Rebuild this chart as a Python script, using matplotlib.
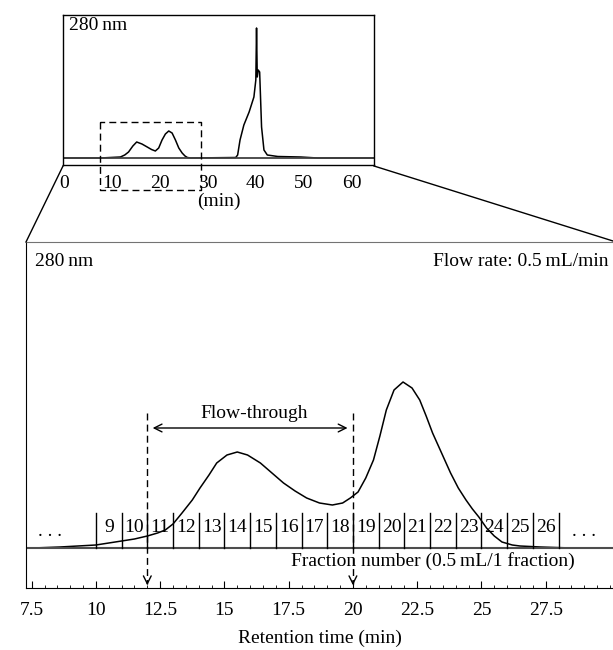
import matplotlib
matplotlib.use("Agg")
import matplotlib.pyplot as plt
from matplotlib.lines import Line2D
from matplotlib.ticker import MultipleLocator

plt.rcParams['font.family'] = ['Liberation Serif', 'DejaVu Serif']

# full run, 0 - 65 min (absorbance in arbitrary units)
full_time = [0, 7.5, 11.7, 12.6, 13.4, 14.3, 15.1, 16.2, 17.3, 18.2, 19.0, 19.7, 20.4,
             21.1, 21.8, 22.5, 23.2, 23.9, 24.6, 25.2, 25.7, 26.4, 35.8, 36.2, 36.7,
             37.5, 38.6, 39.6, 40.0, 40.15, 40.3, 40.5, 40.8, 41.2, 41.7, 42.4, 44.6,
             49.4, 52.9, 65]
full_abs = [0, 0, 1, 3, 6, 12, 16, 14, 11, 8.5, 7, 10, 18,
            24, 27, 25, 18, 10, 5, 2, 0.5, 0, 0.5, 3, 18,
            33, 46, 61, 78, 130, 81, 88, 86, 31, 8, 3, 1.5,
            1, 0, 0]

# zoomed region, 7.5 - 30 min
time = [7.55, 8.6, 9.3, 10.0, 10.5, 11.0, 11.5, 12.0, 12.4, 12.7, 13.0, 13.35, 13.75,
        14.05, 14.4, 14.7, 15.1, 15.5, 15.9, 16.4, 16.85, 17.3, 17.75, 18.2, 18.7,
        19.2, 19.6, 19.9, 20.2, 20.5, 20.8, 21.05, 21.3, 21.6, 21.95, 22.3, 22.6,
        22.85, 23.1, 23.45, 23.8, 24.1, 24.4, 24.65, 24.9, 25.2, 25.5, 25.8, 26.2,
        26.5, 27.3, 28.5, 30.2]
absorb = [0, 1, 2, 3, 5, 7, 9, 12, 15, 18, 24, 35, 48,
          60, 73, 85, 93, 96, 93, 85, 75, 65, 57, 50, 45,
          43, 45, 50, 56, 70, 88, 112, 138, 158, 166, 160, 148,
          132, 115, 95, 75, 60, 48, 39, 31, 20, 12, 6, 3,
          2, 1, 0, 0]

fraction_edges = list(range(10, 29))
fraction_labels = [str(n) for n in range(9, 27)]
flow_through = (12, 20)
box_range = (7.5, 28.6)

fig = plt.figure(figsize=(6.13, 6.5), dpi=100)
W, H = 613.0, 650.0

# ---------------- inset: whole chromatogram ----------------
ax1 = fig.add_axes([63 / W, 1 - 165 / H, (374 - 63) / W, (165 - 15) / H])
ax1.plot(full_time, full_abs, color='black', lw=1.1)
ax1.axhline(0, color='0.25', lw=1.3)
ax1.set_xlim(-0.3, 64.7)
ax1.set_ylim(-7, 143)
ax1.set_xticks([0, 10, 20, 30, 40, 50, 60])
ax1.set_yticks([])
ax1.tick_params(axis='x', length=0, pad=7, labelsize=14)
for s in ax1.spines.values():
    s.set_linewidth(1.0)
ax1.set_xlabel('(min)', fontsize=14, labelpad=1)
ax1.text(0.02, 0.93, '280\u2009nm', transform=ax1.transAxes, fontsize=14, va='center', ha='left')
ax1.plot([box_range[0], box_range[0], box_range[1], box_range[1], box_range[0]],
         [36, -32, -32, 36, 36], color='black', lw=1.0, ls=(0, (5, 3)), clip_on=False)

# ---------------- main: zoomed region ----------------
ax = fig.add_axes([26 / W, 1 - 588 / H, (613 - 26) / W, (588 - 242) / H])
ax.plot(time, absorb, color='black', lw=1.1)
ax.axhline(0, color='0.3', lw=1.5)
ax.set_xlim(7.28, 30.12)
ax.set_ylim(-40, 306)
ax.set_yticks([])
ax.xaxis.set_minor_locator(MultipleLocator(0.5))
ax.set_xticks([7.5, 10, 12.5, 15, 17.5, 20, 22.5, 25, 27.5])
ax.set_xticklabels(['7.5', '10', '12.5', '15', '17.5', '20', '22.5', '25', '27.5'])
ax.tick_params(axis='x', which='major', direction='in', length=5, pad=10, labelsize=14)
ax.tick_params(axis='x', which='minor', direction='in', length=2.5)
ax.spines['right'].set_visible(False)
ax.spines['top'].set_color('0.45')
ax.set_xlabel('Retention time (min)', fontsize=14, labelpad=8)

# fraction bars
for e in fraction_edges:
    ax.plot([e, e], [0, 35], color='black', lw=1.0)
for i, lab in enumerate(fraction_labels):
    ax.text(fraction_edges[i] + 0.5, 20, lab, ha='center', va='center', fontsize=14)
ax.text(8.2, 16, '. . .', ha='center', va='center', fontsize=14)
ax.text(29.0, 16, '. . .', ha='center', va='center', fontsize=14)
ax.text(23.1, -13, 'Fraction number (0.5\u2009mL/1 fraction)', ha='center', va='center', fontsize=14)

# flow-through markers
for x in flow_through:
    ax.plot([x, x], [135, -36], color='black', lw=1.0, ls=(0, (5, 3)))
    ax.annotate('', xy=(x, -40), xytext=(x, -30),
                arrowprops=dict(arrowstyle='->', color='black', lw=1.0, mutation_scale=14))
ax.annotate('', xy=(flow_through[0] + 0.1, 120), xytext=(flow_through[1] - 0.1, 120),
            arrowprops=dict(arrowstyle='<->', color='black', lw=1.0, mutation_scale=14))
ax.text(16.15, 135, 'Flow-through', ha='center', va='center', fontsize=14)

ax.text(0.015, 0.945, '280\u2009nm', transform=ax.transAxes, fontsize=14, va='center', ha='left')
ax.text(0.993, 0.945, 'Flow rate: 0.5\u2009mL/min', transform=ax.transAxes, fontsize=14,
        va='center', ha='right')

# zoom connector lines
fig.add_artist(Line2D([63 / W, 26 / W], [1 - 166 / H, 1 - 242 / H], color='black', lw=1.0,
                      transform=fig.transFigure))
fig.add_artist(Line2D([374 / W, 613 / W], [1 - 166 / H, 1 - 241 / H], color='black', lw=1.0,
                      transform=fig.transFigure))

fig.savefig('out.png', dpi=100)
